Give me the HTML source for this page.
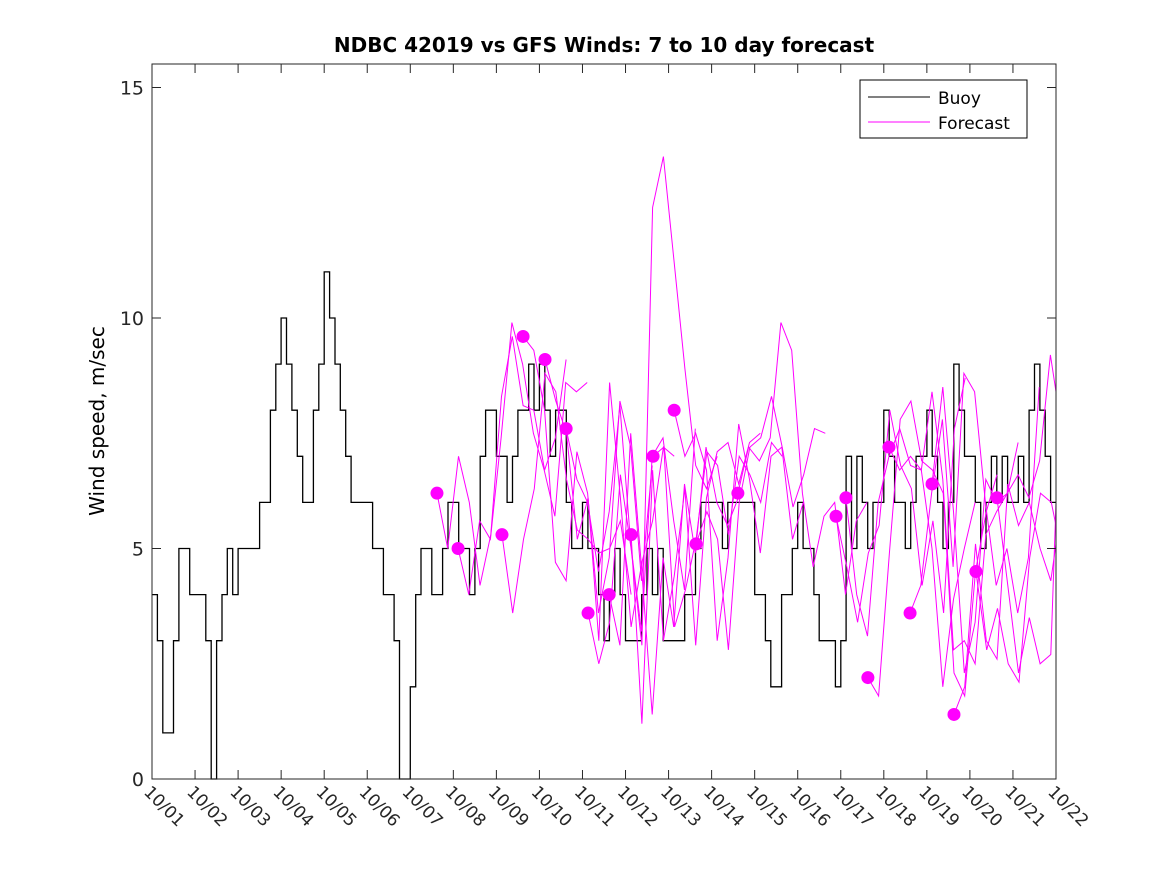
<!DOCTYPE html>
<html><head><meta charset="utf-8"><style>
body{margin:0;background:#fff}
svg{display:block;font-family:"Liberation Sans","DejaVu Sans",sans-serif}
</style></head><body>
<svg id="chart" width="1167" height="875" viewBox="0 0 1167 875" xmlns="http://www.w3.org/2000/svg">
<rect width="1167" height="875" fill="#fff"/>
<text x="604" y="52" text-anchor="middle" font-size="20" font-weight="bold" font-family="DejaVu Sans, sans-serif">NDBC 42019 vs GFS Winds: 7 to 10 day forecast</text>
<text transform="translate(104,421) rotate(-90)" text-anchor="middle" font-size="20" font-family="DejaVu Sans, sans-serif">Wind speed, m/sec</text>
<g id="plot"></g>
<g id="axes"></g>
<g>
<rect x="860" y="80" width="167" height="58" fill="#fff" stroke="#000" stroke-width="1"/>
<line x1="868" y1="97" x2="930" y2="97" stroke="#000"/>
<text x="938" y="104" font-size="17" font-family="DejaVu Sans, sans-serif">Buoy</text>
<line x1="868" y1="122" x2="930" y2="122" stroke="#f0f"/>
<text x="938" y="129" font-size="17" font-family="DejaVu Sans, sans-serif">Forecast</text>
</g>
</svg>
<script>
const dayLabels=["10/01","10/02","10/03","10/04","10/05","10/06","10/07","10/08","10/09","10/10","10/11","10/12","10/13","10/14","10/15","10/16","10/17","10/18","10/19","10/20","10/21","10/22"];
const yTicks=[0,5,10,15];
// buoy wind, 3-hourly from day 0 (169 values)
const buoy=[4,3,1,1,3,5,5,4, 4,4,3,0,3,4,5,4, 5,5,5,5,6,6,8,9, 10,9,8,7,6,6,8,9, 11,10,9,8,7,6,6,6, 6,5,5,4,4,3,0,0,
2,4,5,5,4,4,5,6, 6,5,5,4,5,7,8,8, 7,7,6,7,8,8,9,8, 9,8,7,8,8,6,5,5, 6,5,5,4,3,4,5,4, 3,3,3,4,5,4,5,3,
3,3,3,4,4,5,6,6, 6,6,5,6,6,6,6,6, 4,4,3,2,2,4,4,5, 6,5,5,4,3,3,3,2, 3,7,5,7,6,5,6,6, 8,7,6,6,5,6,7,7,
8,7,6,5,6,9,8,7, 7,6,5,6,7,6,7,6, 6,7,6,8,9,8,7,6, 5];
const fcStart=[6.62,7.11,8.13,8.62,9.13,9.62,10.13,10.62,11.13,11.64,12.13,12.64,13.61,15.89,16.12,16.63,17.12,17.61,18.12,18.63,19.14,19.63];
const fc0=[6.2,5.0,7.0,6.0,4.2,5.3,8.3,9.6,8.1,8.0,6.7,7.4,9.1];
const fc1=[5.0,4.0,5.6,5.2,7.4,9.9,9.0,7.5,6.7,5.7,8.6,8.4,8.6];
const fc2=[5.3,3.6,5.2,6.3,8.8,8.4,6.5,5.4,5.2,4.9,5.0,5.6,4.0];
const fc3=[9.6,9.3,8.0,4.7,4.3,7.1,6.2,3.6,4.8,8.2,7.2,4.3,6.8];
const fc4=[9.1,8.2,7.5,5.2,6.1,3.0,8.6,6.1,3.3,4.7,5.6,7.2,7.0];
const fc5=[7.6,6.5,6.0,4.5,5.8,8.1,5.1,3.2,7.0,7.4,5.6,4.1,7.6];
const fc6=[3.6,2.5,3.4,6.6,5.0,2.9,12.4,13.5,11.2,8.9,6.8,6.3,7.0];
const fc7=[4.0,2.9,7.5,4.6,1.4,4.8,3.3,6.4,4.9,7.2,6.0,5.5,6.1];
const fc8=[5.3,1.2,6.7,3.0,4.4,6.3,2.9,6.1,7.1,7.3,6.4,7.3,7.5];
const fc9=[7.0,7.2,3.3,4.1,5.2,7.1,6.8,5.3,7.0,6.6,6.0,7.3,7.0];
const fc10=[8.0,7.0,7.5,6.7,3.0,4.8,7.7,6.5,4.9,7.0,7.2,5.2,6.0];
const fc11=[5.1,5.8,5.2,2.8,6.0,7.2,7.4,8.3,7.2,5.9,6.6,7.6,7.5];
const fc12=[6.2,7.2,6.9,7.4,9.9,9.3,6.2,4.6,5.7,6.0,4.0,5.6,6.0];
const fc13=[5.7,4.6,3.4,4.9,5.5,8.0,6.8,6.3,4.2,5.6,3.6,7.6,8.7];
const fc14=[6.1,4.0,3.1,6.0,7.0,7.6,6.8,6.7,5.0,2.0,3.9,5.0,6.0];
const fc15=[2.2,1.8,4.9,7.8,8.2,6.9,6.7,6.2,2.3,1.8,4.5,5.8,6.6];
const fc16=[7.2,6.7,7.0,6.7,8.4,6.5,2.8,3.0,2.5,5.3,5.8,6.2,7.3];
const fc17=[3.6,4.2,6.2,7.8,4.6,8.8,8.4,6.0,4.2,5.0,3.6,4.8,8.5];
const fc18=[6.4,8.5,5.8,2.3,3.4,6.5,6.0,6.2,6.6,6.1,6.9,9.2,8.4];
const fc19=[1.4,2.0,5.1,3.0,2.6,6.4,5.5,6.0,5.0,4.3,5.1,4.1,7.5];
const fc20=[4.5,2.8,3.7,2.5,2.1,4.8,6.2,6.0,5.5,4.4,3.3,2.7,4.7];
const fc21=[6.1,4.2,2.3,3.5,2.5,2.7,6.0,7.0,5.8,6.0,5.0,4.6,7.2];
const fcSeries=[fc0,fc1,fc2,fc3,fc4,fc5,fc6,fc7,fc8,fc9,fc10,fc11,fc12,fc13,fc14,fc15,fc16,fc17,fc18,fc19,fc20,fc21];

const NS="http://www.w3.org/2000/svg";
const L=152,R=1056,T=64,B=779,XMAX=21,YMAX=(B-T)/46.1;
const xs=d=>L+d/XMAX*(R-L);
const ys=v=>B-v/YMAX*(B-T);
const plot=document.getElementById('plot'),axes=document.getElementById('axes');
function mk(tag,attrs,parent){const e=document.createElementNS(NS,tag);for(const k in attrs)e.setAttribute(k,attrs[k]);parent.appendChild(e);return e;}
let d="";const step=0.125;
buoy.forEach((v,i)=>{if(i*step>=XMAX)return;const x0=xs(i*step),x1=xs(Math.min((i+1)*step,XMAX));d+=(i?"L":"M")+x0.toFixed(1)+","+ys(v).toFixed(1)+"L"+x1.toFixed(1)+","+ys(v).toFixed(1);});
const bl=mk('path',{d:d,fill:"none",stroke:"#000","stroke-width":1.3},plot);


fcSeries.forEach((s,j)=>{
  const pts=s.map((v,i)=>{const dd=Math.min(fcStart[j]+i*0.25,XMAX);return xs(dd).toFixed(1)+","+ys(v).toFixed(1);}).join(" ");
  const pl=mk('polyline',{points:pts,fill:"none",stroke:"#f0f","stroke-width":1},plot);
  
  
});
fcSeries.forEach((s,j)=>{
  const c=mk('circle',{cx:xs(fcStart[j]),cy:ys(s[0]),r:6.5,fill:"#f0f"},plot);
  
  
});
const bx=mk('rect',{x:L,y:T,width:R-L,height:B-T,fill:"none",stroke:"#262626","stroke-width":1},axes);


dayLabels.forEach((lab,i)=>{
  const x=xs(i);
  mk('line',{x1:x,y1:B,x2:x,y2:B-9,stroke:"#262626"},axes);
  mk('line',{x1:x,y1:T,x2:x,y2:T+9,stroke:"#262626"},axes);
  const t=mk('text',{x:0,y:0,transform:`translate(${x-9},${B+14}) rotate(45)`,"font-size":"17","font-family":"DejaVu Sans, sans-serif",fill:"#262626"},axes);
  t.textContent=lab;
  
  
});
yTicks.forEach(v=>{
  const y=ys(v);
  mk('line',{x1:L,y1:y,x2:L+9,y2:y,stroke:"#262626"},axes);
  mk('line',{x1:R,y1:y,x2:R-9,y2:y,stroke:"#262626"},axes);
  const t=mk('text',{x:L-8,y:y+7,"text-anchor":"end","font-size":"19","font-family":"DejaVu Sans, sans-serif",fill:"#262626"},axes);
  t.textContent=v;
  
  
});
</script>
</body></html>
